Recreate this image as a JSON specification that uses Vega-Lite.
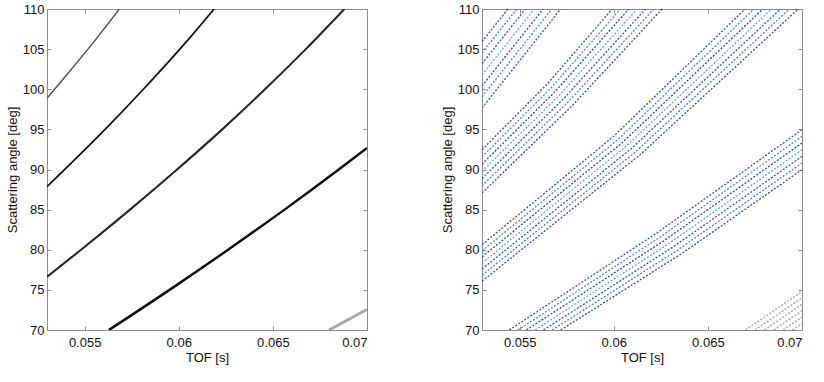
{
  "$schema": "https://vega.github.io/schema/vega-lite/v6.json",
  "background": "white",
  "padding": {"left": 5, "top": 2, "right": 5, "bottom": 5},
  "spacing": 72,
  "resolve": {"scale": {"color": "independent", "strokeWidth": "independent"}},
  "config": {
    "view": {"stroke": "#8c8c8c", "strokeWidth": 1},
    "font": "Liberation Sans",
    "axis": {"grid": false, "domain": false, "tickColor": "#8c8c8c", "tickSize": -4, "labelFontSize": 13, "labelColor": "#111", "titleFontSize": 13, "titleFontWeight": "normal", "titleColor": "#111", "labelFont": "Liberation Sans", "titleFont": "Liberation Sans"},
    "axisX": {"labelPadding": 10, "titlePadding": 2},
    "axisY": {"labelPadding": 7, "titlePadding": 3}
  },
  "datasets": {
    "left": [
      {"curve": "L1", "t": 0.053, "a": 98.87}, {"curve": "L1", "t": 0.05412, "a": 102}, {"curve": "L1", "t": 0.05552, "a": 106}, {"curve": "L1", "t": 0.05685, "a": 110},
      {"curve": "L2", "t": 0.053, "a": 87.86}, {"curve": "L2", "t": 0.05481, "a": 92}, {"curve": "L2", "t": 0.0565, "a": 96}, {"curve": "L2", "t": 0.05812, "a": 100}, {"curve": "L2", "t": 0.05968, "a": 104}, {"curve": "L2", "t": 0.0608, "a": 107}, {"curve": "L2", "t": 0.06188, "a": 110},
      {"curve": "L3", "t": 0.053, "a": 76.64}, {"curve": "L3", "t": 0.05481, "a": 80}, {"curve": "L3", "t": 0.05741, "a": 85}, {"curve": "L3", "t": 0.05991, "a": 90}, {"curve": "L3", "t": 0.06231, "a": 95}, {"curve": "L3", "t": 0.06458, "a": 100}, {"curve": "L3", "t": 0.06675, "a": 105}, {"curve": "L3", "t": 0.0688, "a": 110},
      {"curve": "L4", "t": 0.05629, "a": 70}, {"curve": "L4", "t": 0.05951, "a": 75}, {"curve": "L4", "t": 0.06262, "a": 80}, {"curve": "L4", "t": 0.06562, "a": 85}, {"curve": "L4", "t": 0.0685, "a": 90}, {"curve": "L4", "t": 0.07, "a": 92.68},
      {"curve": "L5", "t": 0.06798, "a": 70}, {"curve": "L5", "t": 0.06877, "a": 71}, {"curve": "L5", "t": 0.07, "a": 72.56}
    ],
    "right": [
      {"s": "B1-0", "k": "0", "t": 0.053, "a": 105.93}, {"s": "B1-0", "k": "0", "t": 0.05438, "a": 110},
      {"s": "B1-1", "k": "1", "t": 0.053, "a": 104.54}, {"s": "B1-1", "k": "1", "t": 0.05485, "a": 110},
      {"s": "B1-2", "k": "2", "t": 0.053, "a": 103.19}, {"s": "B1-2", "k": "2", "t": 0.05531, "a": 110},
      {"s": "B1-3", "k": "3", "t": 0.053, "a": 101.8}, {"s": "B1-3", "k": "3", "t": 0.05578, "a": 110},
      {"s": "B1-4", "k": "4", "t": 0.053, "a": 100.41}, {"s": "B1-4", "k": "4", "t": 0.05625, "a": 110},
      {"s": "B1-5", "k": "5", "t": 0.053, "a": 99.06}, {"s": "B1-5", "k": "5", "t": 0.05671, "a": 110},
      {"s": "B1-6", "k": "6", "t": 0.053, "a": 97.67}, {"s": "B1-6", "k": "6", "t": 0.05718, "a": 110},
      {"s": "B2-0", "k": "0", "t": 0.053, "a": 87.07}, {"s": "B2-0", "k": "0", "t": 0.057785, "a": 97.94}, {"s": "B2-0", "k": "0", "t": 0.06257, "a": 110},
      {"s": "B2-1", "k": "1", "t": 0.053, "a": 87.97}, {"s": "B2-1", "k": "1", "t": 0.057565, "a": 98.39}, {"s": "B2-1", "k": "1", "t": 0.06213, "a": 110},
      {"s": "B2-2", "k": "2", "t": 0.053, "a": 88.87}, {"s": "B2-2", "k": "2", "t": 0.057345, "a": 98.84}, {"s": "B2-2", "k": "2", "t": 0.06169, "a": 110},
      {"s": "B2-3", "k": "3", "t": 0.053, "a": 89.77}, {"s": "B2-3", "k": "3", "t": 0.057125, "a": 99.29}, {"s": "B2-3", "k": "3", "t": 0.06125, "a": 110},
      {"s": "B2-4", "k": "4", "t": 0.053, "a": 90.67}, {"s": "B2-4", "k": "4", "t": 0.0569, "a": 99.74}, {"s": "B2-4", "k": "4", "t": 0.0608, "a": 110},
      {"s": "B2-5", "k": "5", "t": 0.053, "a": 91.57}, {"s": "B2-5", "k": "5", "t": 0.05668, "a": 100.19}, {"s": "B2-5", "k": "5", "t": 0.06036, "a": 110},
      {"s": "B2-6", "k": "6", "t": 0.053, "a": 92.47}, {"s": "B2-6", "k": "6", "t": 0.05646, "a": 100.64}, {"s": "B2-6", "k": "6", "t": 0.05992, "a": 110},
      {"s": "B3-0", "k": "0", "t": 0.053, "a": 76.07}, {"s": "B3-0", "k": "0", "t": 0.0614, "a": 91.84}, {"s": "B3-0", "k": "0", "t": 0.0698, "a": 110},
      {"s": "B3-1", "k": "1", "t": 0.053, "a": 76.83}, {"s": "B3-1", "k": "1", "t": 0.061165, "a": 92.22}, {"s": "B3-1", "k": "1", "t": 0.06933, "a": 110},
      {"s": "B3-2", "k": "2", "t": 0.053, "a": 77.59}, {"s": "B3-2", "k": "2", "t": 0.06093, "a": 92.6}, {"s": "B3-2", "k": "2", "t": 0.06886, "a": 110},
      {"s": "B3-3", "k": "3", "t": 0.053, "a": 78.35}, {"s": "B3-3", "k": "3", "t": 0.060695, "a": 92.98}, {"s": "B3-3", "k": "3", "t": 0.06839, "a": 110},
      {"s": "B3-4", "k": "4", "t": 0.053, "a": 79.11}, {"s": "B3-4", "k": "4", "t": 0.06046, "a": 93.36}, {"s": "B3-4", "k": "4", "t": 0.06792, "a": 110},
      {"s": "B3-5", "k": "5", "t": 0.053, "a": 79.87}, {"s": "B3-5", "k": "5", "t": 0.060225, "a": 93.74}, {"s": "B3-5", "k": "5", "t": 0.06745, "a": 110},
      {"s": "B3-6", "k": "6", "t": 0.053, "a": 80.63}, {"s": "B3-6", "k": "6", "t": 0.05999, "a": 94.12}, {"s": "B3-6", "k": "6", "t": 0.06698, "a": 110},
      {"s": "B4-0", "k": "0", "t": 0.05718, "a": 70}, {"s": "B4-0", "k": "0", "t": 0.06359, "a": 79.49}, {"s": "B4-0", "k": "0", "t": 0.07, "a": 89.98},
      {"s": "B4-1", "k": "1", "t": 0.05673, "a": 70}, {"s": "B4-1", "k": "1", "t": 0.063365, "a": 79.91}, {"s": "B4-1", "k": "1", "t": 0.07, "a": 90.81},
      {"s": "B4-2", "k": "2", "t": 0.05627, "a": 70}, {"s": "B4-2", "k": "2", "t": 0.063135, "a": 80.32}, {"s": "B4-2", "k": "2", "t": 0.07, "a": 91.64},
      {"s": "B4-3", "k": "3", "t": 0.05582, "a": 70}, {"s": "B4-3", "k": "3", "t": 0.06291, "a": 80.74}, {"s": "B4-3", "k": "3", "t": 0.07, "a": 92.47},
      {"s": "B4-4", "k": "4", "t": 0.05536, "a": 70}, {"s": "B4-4", "k": "4", "t": 0.06268, "a": 81.15}, {"s": "B4-4", "k": "4", "t": 0.07, "a": 93.3},
      {"s": "B4-5", "k": "5", "t": 0.05491, "a": 70}, {"s": "B4-5", "k": "5", "t": 0.062455, "a": 81.57}, {"s": "B4-5", "k": "5", "t": 0.07, "a": 94.13},
      {"s": "B4-6", "k": "6", "t": 0.05445, "a": 70}, {"s": "B4-6", "k": "6", "t": 0.062225, "a": 81.98}, {"s": "B4-6", "k": "6", "t": 0.07, "a": 94.96},
      {"s": "B5-0", "k": "g", "t": 0.067, "a": 70}, {"s": "B5-0", "k": "g", "t": 0.07, "a": 74.8},
      {"s": "B5-1", "k": "g", "t": 0.0675, "a": 70}, {"s": "B5-1", "k": "g", "t": 0.07, "a": 74.0},
      {"s": "B5-2", "k": "g", "t": 0.068, "a": 70}, {"s": "B5-2", "k": "g", "t": 0.07, "a": 73.2},
      {"s": "B5-3", "k": "g", "t": 0.0685, "a": 70}, {"s": "B5-3", "k": "g", "t": 0.07, "a": 72.4},
      {"s": "B5-4", "k": "g", "t": 0.069, "a": 70}, {"s": "B5-4", "k": "g", "t": 0.07, "a": 71.6},
      {"s": "B5-5", "k": "g", "t": 0.0695, "a": 70}, {"s": "B5-5", "k": "g", "t": 0.07, "a": 70.8}
    ]
  },
  "hconcat": [
    {
      "width": 320, "height": 321,
      "data": {"name": "left"},
      "layer": [
        {
          "mark": {"type": "line", "interpolate": "monotone", "clip": true},
          "encoding": {
            "x": {"field": "t", "type": "quantitative", "scale": {"domain": [0.053, 0.07], "nice": false, "zero": false}, "axis": {"values": [0.055, 0.06, 0.065, 0.07], "format": "~g", "title": "TOF [s]"}},
            "y": {"field": "a", "type": "quantitative", "scale": {"domain": [70, 110], "nice": false, "zero": false}, "axis": {"values": [70, 75, 80, 85, 90, 95, 100, 105, 110], "title": "Scattering angle [deg]"}},
            "color": {"field": "curve", "type": "nominal", "scale": {"domain": ["L1", "L2", "L3", "L4", "L5"], "range": ["#4a4a4a", "#111111", "#262626", "#0d0d0d", "#a8a8a8"]}, "legend": null},
            "strokeWidth": {"field": "curve", "type": "ordinal", "scale": {"domain": ["L1", "L2", "L3", "L4", "L5"], "range": [1.4, 2.8, 1.8, 3.2, 1.0]}, "legend": null}
          }
        },
        {
          "mark": {"type": "line", "opacity": 0},
          "encoding": {
            "x": {"field": "t", "type": "quantitative", "scale": {"domain": [0.053, 0.07], "nice": false, "zero": false}, "axis": {"orient": "top", "values": [0.055, 0.06, 0.065], "labels": false, "title": null}},
            "y": {"field": "a", "type": "quantitative", "scale": {"domain": [70, 110], "nice": false, "zero": false}, "axis": {"orient": "right", "values": [75, 80, 85, 90, 95, 100, 105], "labels": false, "title": null}}
          }
        }
      ],
      "resolve": {"axis": {"x": "independent", "y": "independent"}}
    },
    {
      "width": 320, "height": 321,
      "data": {"name": "right"},
      "layer": [
        {
          "mark": {"type": "line", "clip": true, "strokeDash": [2, 1.6], "strokeWidth": 1.3, "opacity": 0.9},
          "encoding": {
            "x": {"field": "t", "type": "quantitative", "scale": {"domain": [0.053, 0.07], "nice": false, "zero": false}, "axis": {"values": [0.055, 0.06, 0.065, 0.07], "format": "~g", "title": "TOF [s]"}},
            "y": {"field": "a", "type": "quantitative", "scale": {"domain": [70, 110], "nice": false, "zero": false}, "axis": {"values": [70, 75, 80, 85, 90, 95, 100, 105, 110], "title": "Scattering angle [deg]"}},
            "detail": {"field": "s", "type": "nominal"},
            "color": {"field": "k", "type": "nominal", "scale": {"domain": ["0", "1", "2", "3", "4", "5", "6", "g"], "range": ["#26348c", "#3f6fb5", "#2b3d98", "#4aa6b8", "#22308a", "#3a7fb8", "#2c3a92", "#9095ad"]}, "legend": null}
          }
        },
        {
          "mark": {"type": "line", "opacity": 0},
          "encoding": {
            "x": {"field": "t", "type": "quantitative", "scale": {"domain": [0.053, 0.07], "nice": false, "zero": false}, "axis": {"orient": "top", "values": [0.055, 0.06, 0.065], "labels": false, "title": null}},
            "y": {"field": "a", "type": "quantitative", "scale": {"domain": [70, 110], "nice": false, "zero": false}, "axis": {"orient": "right", "values": [75, 80, 85, 90, 95, 100, 105], "labels": false, "title": null}}
          }
        }
      ],
      "resolve": {"axis": {"x": "independent", "y": "independent"}}
    }
  ]
}
